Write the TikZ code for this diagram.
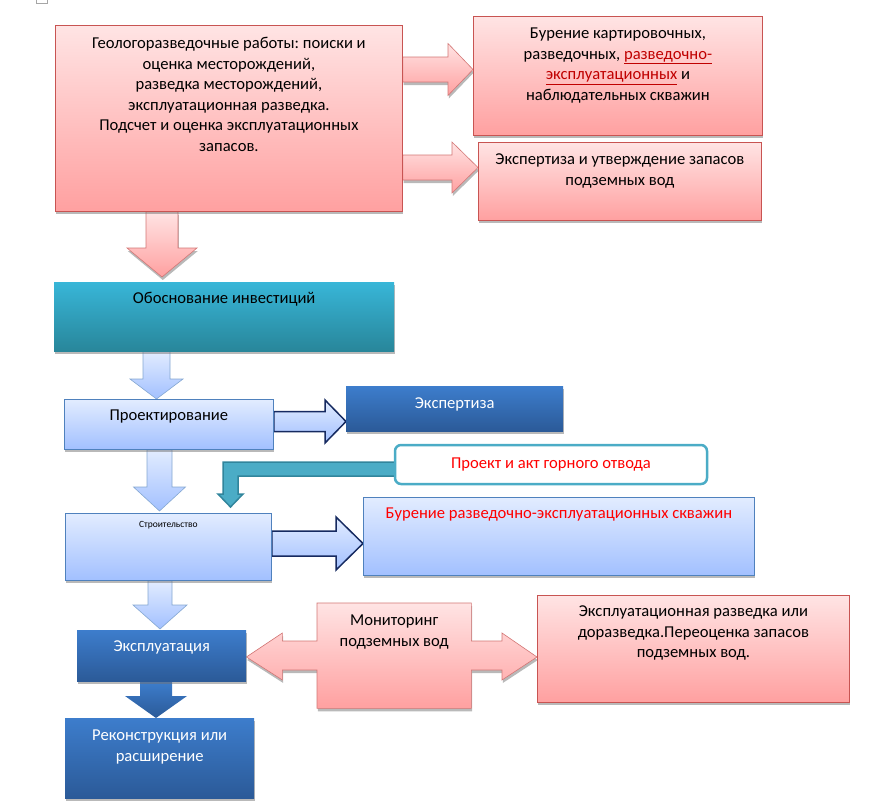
\documentclass[tikz,border=0pt]{standalone}
\usepackage{fontspec}
\setmainfont{Carlito}
\frenchspacing
\usetikzlibrary{backgrounds,
                calc,
                positioning,
                shadows
                }

\definecolor{pinkT}{RGB}{255,228,228}
\definecolor{pinkB}{RGB}{255,160,160}
\definecolor{pinkD}{RGB}{200,84,82}
\definecolor{tealT}{RGB}{56,182,216}
\definecolor{tealB}{RGB}{40,134,154}
\definecolor{lbT}{RGB}{226,236,255}
\definecolor{lbB}{RGB}{162,192,255}
\definecolor{lbD}{RGB}{79,129,189}
\definecolor{dbT}{RGB}{61,125,204}
\definecolor{dbB}{RGB}{43,90,152}
\definecolor{navy}{RGB}{22,42,96}
\definecolor{tealA}{RGB}{75,172,198}
\definecolor{tealAD}{RGB}{49,133,156}
\definecolor{txtred}{RGB}{255,0,0}
\definecolor{txtdred}{RGB}{192,0,0}

% block arrow downwards: style, from, to, x, shaft half, head half, head length, gap
\newcommand\blkdown[8]{%
  \path[#1] let \p1=(#2.south), \p2=(#3.north) in
    (#4pt-#5pt,\y1) -- (#4pt+#5pt,\y1) -- (#4pt+#5pt,\y2+#8pt+#7pt)
    -- (#4pt+#6pt,\y2+#8pt+#7pt) -- (#4pt,\y2+#8pt) -- (#4pt-#6pt,\y2+#8pt+#7pt)
    -- (#4pt-#5pt,\y2+#8pt+#7pt) -- cycle;}
% block arrow to the right: style, from, to, y, shaft half, head half, head length
\newcommand\blkright[7]{%
  \path[#1] let \p1=(#2.east), \p2=(#3.west) in
    (\x1,-#4pt+#5pt) -- (\x2-#7pt,-#4pt+#5pt) -- (\x2-#7pt,-#4pt+#6pt)
    -- (\x2,-#4pt) -- (\x2-#7pt,-#4pt-#6pt) -- (\x2-#7pt,-#4pt-#5pt)
    -- (\x1,-#4pt-#5pt) -- cycle;}

\begin{document}
\begin{tikzpicture}[x=1pt, y=-1pt,
      shd/.style = {drop shadow={shadow xshift=0.8pt, shadow yshift=-3pt,
                    fill=black!55, opacity=0.5}},
  pinkbox/.style = {draw=pinkD, line width=0.8pt, top color=pinkT,
                    bottom color=pinkB, shd, anchor=north west, inner sep=0pt},
  tealbox/.style = {top color=tealT, bottom color=tealB, shd,
                    anchor=north west, inner sep=0pt},
 lightbox/.style = {draw=lbD, line width=0.8pt, top color=lbT,
                    bottom color=lbB, shd, anchor=north west, inner sep=0pt},
  darkbox/.style = {top color=dbT, bottom color=dbB, shd,
                    anchor=north west, inner sep=0pt},
  gornbox/.style = {draw=tealA, line width=2.5pt, fill=white,
                    rounded corners=6pt, text=txtred,
                    font=\fontsize{16.6}{20.5}\selectfont},
      txt/.style = {align=center, inner sep=0pt,
                    font=\fontsize{16.6}{20.5}\selectfont},
 pinkarrow/.style = {draw=pinkD!80, line width=0.6pt, top color=pinkT,
                    bottom color=pinkB, shd},
   lbarrow/.style = {draw=lbD!70, line width=0.6pt, top color=lbT,
                    bottom color=lbB},
 navyarrow/.style = {draw=navy, line width=1.5pt, top color=lbT,
                    bottom color=lbB},
   dbarrow/.style = {top color=dbT, bottom color=dbB},
 tealarrow/.style = {draw=tealAD, line width=1.5pt, fill=tealA}
      ]
\useasboundingbox (0,0) rectangle (884,803);
\draw[black!35, line width=0.6pt] (36,-3) rectangle (47,3);

% top block
\node[pinkbox, minimum width=347pt, minimum height=186pt] (geo) at (55,25) {};
\node[txt, below=12pt of geo.north] (geo-t) {Геологоразведочные работы: поиски и\\
      оценка месторождений,\\ разведка месторождений,\\
      эксплуатационная разведка.\\ Подсчет и оценка эксплуатационных\\ запасов.};
\node[pinkbox, minimum width=289pt, minimum height=119pt] (bur1) at (473,16) {};
\node[txt, below=12pt of bur1.north] (bur1-t) {Бурение картировочных,\\
      разведочных, \textcolor{txtdred}{\underline{разведочно-}}\\
      \textcolor{txtdred}{\underline{эксплуатационных}} и\\ наблюдательных скважин};
\node[pinkbox, minimum width=283pt, minimum height=78pt] (exp1) at (478,142) {};
\node[txt, below=12pt of exp1.north] (exp1-t) {Экспертиза и утверждение запасов\\ подземных вод};

% middle
\node[tealbox, minimum width=340pt, minimum height=69pt] (inv) at (54,282) {};
\node[txt, below=10pt of inv.north] (inv-t) {Обоснование инвестиций};
\node[lightbox, minimum width=209pt, minimum height=50pt] (proekt) at (64,399) {};
\node[txt, below=11pt of proekt.north] (proekt-t) {Проектирование};
\node[darkbox, minimum width=217pt, minimum height=45pt] (ekspert) at (346,386) {};
\node[txt, text=white, below=12pt of ekspert.north] (ekspert-t) {Экспертиза};
\node[gornbox, minimum width=312pt, minimum height=39pt] (gorn) at (551,464.5)
      {Проект и акт горного отвода};
\node[lightbox, minimum width=206pt, minimum height=67pt] (stroi) at (65,513) {};
\node[txt, font=\fontsize{9.5}{11}\selectfont, below=8pt of stroi.north] (stroi-t) {Строительство};
\node[lightbox, minimum width=391pt, minimum height=78pt] (burr) at (363,497) {};
\node[txt, text=txtred, below=11pt of burr.north] (burr-t)
      {Бурение разведочно-эксплуатационных скважин};

% bottom
\node[darkbox, minimum width=169pt, minimum height=51pt] (expl) at (77,630) {};
\node[txt, text=white, below=11pt of expl.north] (expl-t) {Эксплуатация};
\node[darkbox, minimum width=189pt, minimum height=80pt] (rek) at (65,718) {};
\node[txt, text=white, below=12pt of rek.north] (rek-t) {Реконструкция или\\ расширение};
\node[anchor=north west, minimum width=154pt, minimum height=105pt, inner sep=0pt]
      (mon) at (317,603) {};
\node[txt, below=12pt of mon.north] (mon-t) {Мониторинг\\ подземных вод};
\node[pinkbox, minimum width=312pt, minimum height=107pt] (razv) at (537,595) {};
\node[txt, below=11pt of razv.north] (razv-t) {Эксплуатационная разведка или\\
      доразведка.Переоценка запасов\\ подземных вод.};

\begin{pgfonlayer}{background}
\blkdown{pinkarrow}{geo}{inv}{162}{16}{35}{29}{5}
\blkright{pinkarrow}{geo}{bur1}{69.5}{12.5}{26}{25}
\blkright{pinkarrow}{geo}{exp1}{167.5}{12.5}{25.5}{26}
\blkdown{lbarrow}{inv}{proekt}{156.5}{13.5}{26.5}{20}{0}
\blkright{navyarrow}{proekt}{ekspert}{421.5}{10}{21.5}{21}
\blkdown{lbarrow}{proekt}{stroi}{159.5}{12.5}{26}{24}{2}
\blkright{navyarrow}{stroi}{burr}{543.5}{12.5}{26.5}{27}
\blkdown{lbarrow}{stroi}{expl}{160}{12}{27}{24}{1}
\blkdown{dbarrow}{expl}{rek}{156}{16}{31}{22}{0}
% elbow from the rounded box
\path[tealarrow] let \p1=(gorn.west), \p2=(stroi.north) in
    (\x1+5pt,-462pt) -- (223pt,-462pt) -- (223pt,\y2+19pt) -- (218pt,\y2+19pt)
    -- (230.5pt,\y2+6pt) -- (243pt,\y2+19pt) -- (238pt,\y2+19pt)
    -- (238pt,-476pt) -- (\x1+5pt,-476pt) -- cycle;
% double arrow round the monitoring block
\path[pinkarrow] let \p1=(expl.east), \p2=(razv.west),
                     \p3=(mon.north west), \p4=(mon.south east) in
    (\x3,\y3) -- (\x4,\y3) -- (\x4,-641pt) -- (\x2-35pt,-641pt)
    -- (\x2-35pt,-633pt) -- (\x2,-657pt) -- (\x2-35pt,-680pt) -- (\x2-35pt,-670pt)
    -- (\x4,-670pt) -- (\x4,\y4) -- (\x3,\y4) -- (\x3,-670pt) -- (\x1+36pt,-670pt)
    -- (\x1+36pt,-680pt) -- (\x1,-657pt) -- (\x1+36pt,-633pt) -- (\x1+36pt,-641pt)
    -- (\x3,-641pt) -- cycle;
\end{pgfonlayer}
\end{tikzpicture}
\end{document}
